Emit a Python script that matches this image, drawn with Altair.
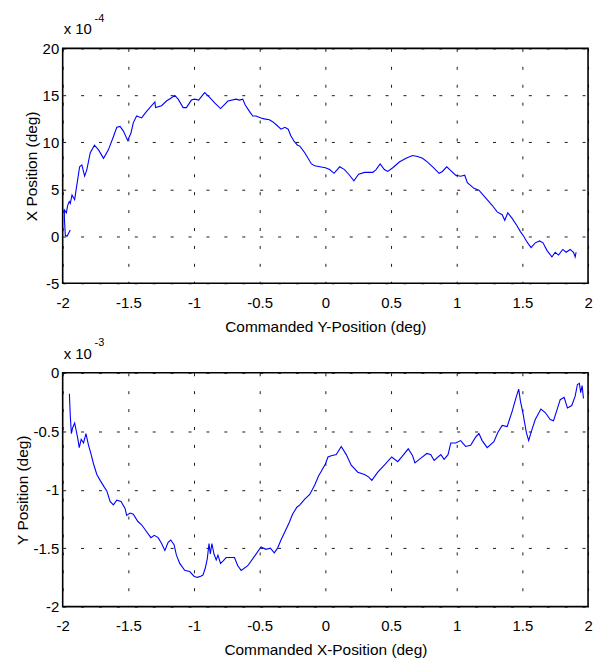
import altair as alt
import pandas as pd

# Top panel: X position (x 10^-4 deg) vs commanded Y-position (deg)
top_x = [-1.942, -1.967, -1.98, -1.987, -1.987, -1.972, -1.962, -1.95, -1.942, -1.929,
         -1.909, -1.896, -1.871, -1.854, -1.833, -1.816, -1.79, -1.758, -1.727, -1.689,
         -1.652, -1.614, -1.588, -1.563, -1.538, -1.505, -1.48, -1.462, -1.437, -1.399,
         -1.361, -1.323, -1.298, -1.293, -1.247, -1.21, -1.177, -1.146, -1.121, -1.083,
         -1.058, -1.02, -0.995, -0.965, -0.919, -0.881, -0.843, -0.798, -0.742, -0.679,
         -0.654, -0.629, -0.611, -0.578, -0.553, -0.528, -0.49, -0.465, -0.427, -0.402,
         -0.376, -0.338, -0.308, -0.283, -0.263, -0.237, -0.212, -0.194, -0.157, -0.106,
         -0.081, -0.043, 0.0, 0.033, 0.066, 0.109, 0.146, 0.184, 0.217, 0.253,
         0.298, 0.361, 0.386, 0.417, 0.449, 0.475, 0.513, 0.563, 0.614, 0.664,
         0.702, 0.74, 0.778, 0.823, 0.866, 0.891, 0.924, 0.955, 0.992, 1.03,
         1.061, 1.081, 1.131, 1.169, 1.22, 1.27, 1.308, 1.346, 1.366, 1.389,
         1.422, 1.46, 1.485, 1.51, 1.535, 1.566, 1.598, 1.631, 1.657, 1.687,
         1.725, 1.75, 1.775, 1.808, 1.833, 1.864, 1.889, 1.902, 1.909]
top_y = [0.68, 0.0, 0.1, 1.9, 2.8, 2.5, 3.3, 3.7, 3.5, 4.4,
         3.9, 5.1, 7.4, 7.6, 6.4, 7.1, 8.9, 9.7, 9.2, 8.3,
         9.2, 10.6, 11.6, 11.7, 11.2, 10.2, 11.0, 12.1, 12.8, 12.6,
         13.3, 13.9, 14.3, 13.7, 13.9, 14.4, 14.7, 15.0, 14.6, 13.7,
         13.7, 14.5, 14.6, 14.5, 15.3, 14.8, 14.2, 13.6, 14.4, 14.6,
         14.5, 14.6, 14.0, 13.3, 12.8, 12.8, 12.6, 12.5, 12.4, 12.2,
         11.9, 11.4, 11.6, 11.4, 10.7, 10.1, 9.7, 9.6, 8.9, 7.7,
         7.5, 7.4, 7.3, 7.1, 6.7, 7.4, 7.1, 6.5, 5.9, 6.6,
         6.8, 6.8, 7.1, 7.7, 7.1, 6.9, 7.3, 7.9, 8.3, 8.6,
         8.5, 8.3, 7.9, 7.3, 6.7, 6.9, 7.4, 7.0, 6.5, 6.4,
         6.5, 5.7, 5.1, 4.9, 4.1, 3.3, 2.6, 2.3, 1.7, 2.5,
         1.9, 1.1, 0.5, 0.0, -0.6, -1.2, -0.7, -0.5, -0.7, -1.5,
         -2.2, -1.7, -2.0, -1.4, -1.7, -1.4, -1.7, -2.2, -1.7]

# Bottom panel: Y position (x 10^-3 deg) vs commanded X-position (deg)
bot_x = [-1.949, -1.942, -1.934, -1.924, -1.909, -1.896, -1.884, -1.874, -1.859, -1.841,
         -1.823, -1.803, -1.783, -1.765, -1.74, -1.715, -1.682, -1.664, -1.639, -1.614,
         -1.588, -1.556, -1.525, -1.513, -1.487, -1.462, -1.429, -1.399, -1.361, -1.328,
         -1.303, -1.273, -1.247, -1.222, -1.197, -1.177, -1.152, -1.134, -1.109, -1.071,
         -1.033, -1.0, -0.975, -0.949, -0.932, -0.914, -0.899, -0.886, -0.876, -0.864,
         -0.848, -0.831, -0.818, -0.798, -0.78, -0.755, -0.73, -0.692, -0.667, -0.641,
         -0.591, -0.54, -0.49, -0.452, -0.419, -0.389, -0.364, -0.338, -0.308, -0.275,
         -0.25, -0.217, -0.194, -0.157, -0.119, -0.081, -0.051, -0.03, 0.0, 0.02,
         0.045, 0.083, 0.121, 0.159, 0.197, 0.247, 0.298, 0.328, 0.354, 0.399,
         0.449, 0.505, 0.551, 0.588, 0.631, 0.664, 0.682, 0.727, 0.773, 0.803,
         0.828, 0.879, 0.904, 0.934, 0.955, 0.992, 1.03, 1.068, 1.106, 1.144,
         1.169, 1.194, 1.232, 1.283, 1.313, 1.346, 1.384, 1.422, 1.455, 1.472,
         1.485, 1.505, 1.53, 1.548, 1.566, 1.598, 1.641, 1.674, 1.712, 1.737,
         1.763, 1.788, 1.818, 1.843, 1.876, 1.902, 1.919, 1.934, 1.944, 1.955, 1.965]
bot_y = [-0.18, -0.37, -0.52, -0.47, -0.43, -0.50, -0.57, -0.64, -0.57, -0.60,
         -0.52, -0.62, -0.70, -0.78, -0.87, -0.92, -0.98, -1.01, -1.10, -1.13,
         -1.09, -1.10, -1.16, -1.22, -1.20, -1.21, -1.27, -1.30, -1.36, -1.41,
         -1.39, -1.41, -1.46, -1.52, -1.45, -1.43, -1.47, -1.56, -1.63, -1.69,
         -1.70, -1.74, -1.75, -1.74, -1.73, -1.67, -1.59, -1.46, -1.55, -1.46,
         -1.55, -1.60, -1.56, -1.63, -1.61, -1.58, -1.58, -1.58, -1.65, -1.69,
         -1.65, -1.57, -1.49, -1.51, -1.50, -1.54, -1.50, -1.43, -1.36, -1.28,
         -1.21, -1.15, -1.13, -1.08, -1.04, -0.96, -0.88, -0.84, -0.78, -0.72,
         -0.71, -0.70, -0.63, -0.70, -0.79, -0.85, -0.87, -0.89, -0.92, -0.85,
         -0.79, -0.72, -0.76, -0.71, -0.65, -0.71, -0.77, -0.73, -0.69, -0.70,
         -0.75, -0.70, -0.74, -0.70, -0.60, -0.60, -0.58, -0.63, -0.62, -0.55,
         -0.52, -0.58, -0.64, -0.59, -0.51, -0.45, -0.46, -0.33, -0.20, -0.14,
         -0.24, -0.35, -0.51, -0.58, -0.51, -0.40, -0.31, -0.34, -0.40, -0.41,
         -0.32, -0.23, -0.21, -0.30, -0.28, -0.20, -0.10, -0.09, -0.17, -0.11, -0.22]

x_ticks = [-2, -1.5, -1, -0.5, 0, 0.5, 1, 1.5, 2]
top_yticks = [-5, 0, 5, 10, 15, 20]
bot_yticks = [-2, -1.5, -1, -0.5, 0]

FONT = "Liberation Sans"
LABEL_EXPR = ("datum.value < 0 ? '-' + format(-datum.value, '~g') "
              ": format(datum.value, '~g')")


def axis(values, title, orient):
    common = dict(values=values, title=title, labelExpr=LABEL_EXPR,
                  grid=True, gridColor="#000000", gridDash=[3, 15], gridWidth=1,
                  gridOpacity=0.9, domain=False, ticks=False, tickSize=0,
                  labelFont=FONT, labelFontSize=15, labelColor="#000000",
                  titleFont=FONT, titleFontSize=15.5, titleColor="#000000",
                  titleFontWeight="normal", labelFlush=False, labelOverlap=False)
    if orient == "bottom":
        common.update(labelPadding=12, titlePadding=9)
    else:
        common.update(labelPadding=4, titlePadding=3)
    return alt.Axis(**common)


def panel(xs, ys, xtitle, ytitle, ydom, yticks, exponent, h):
    df = pd.DataFrame({"i": list(range(len(xs))), "x": xs, "y": ys})
    line = alt.Chart(df).mark_line(color="#0000ff", strokeWidth=1.1).encode(
        x=alt.X("x:Q", scale=alt.Scale(domain=[-2, 2], nice=False, zero=False),
                axis=axis(x_ticks, xtitle, "bottom")),
        y=alt.Y("y:Q", scale=alt.Scale(domain=ydom, nice=False, zero=False),
                axis=axis(yticks, ytitle, "left")),
        order="i:Q",
    )
    base = alt.Chart(pd.DataFrame({"t": ["x 10"]})).mark_text(
        align="left", baseline="middle", font=FONT, fontSize=15, color="#000000"
    ).encode(x=alt.value(1), y=alt.value(-19), text="t:N")
    sup = alt.Chart(pd.DataFrame({"t": [exponent]})).mark_text(
        align="left", baseline="middle", font=FONT, fontSize=11, color="#000000"
    ).encode(x=alt.value(32), y=alt.value(-30), text="t:N")
    return alt.layer(line, base, sup).properties(width=528, height=h)


top = panel(top_x, top_y, "Commanded Y-Position (deg)", "X Position (deg)",
            [-5, 20], top_yticks, "-4", 236)
bottom = panel(bot_x, bot_y, "Commanded X-Position (deg)", "Y Position (deg)",
               [-2, 0], bot_yticks, "-3", 235)

chart = alt.vconcat(top, bottom, spacing=0).properties(
    padding={"left": 14, "top": 10, "right": 5, "bottom": 2},
    background="#ffffff",
).configure_view(stroke="#000000", strokeWidth=1.6)

chart.save("out.html", embed_options={"renderer": "svg", "actions": False})
